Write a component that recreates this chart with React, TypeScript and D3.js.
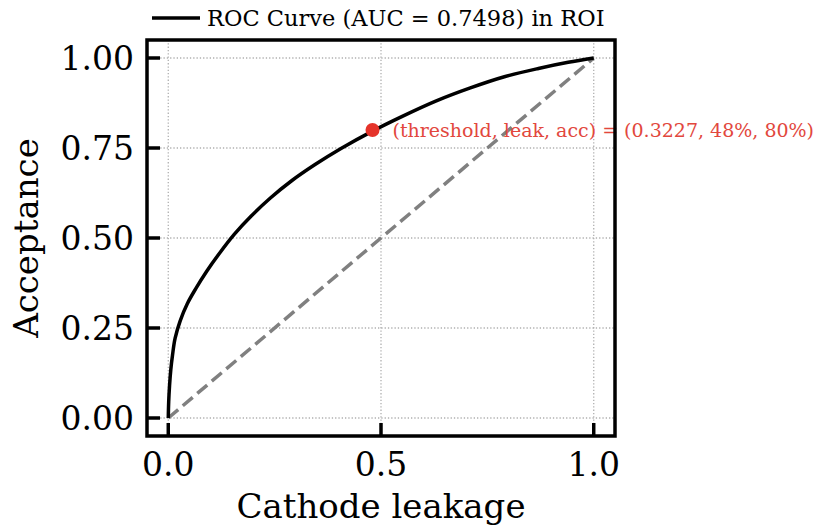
import React from "react";
import * as d3 from "d3";

// ROC curve points (leakage, acceptance)
const rocX = [0, 0.001, 0.003, 0.006, 0.010, 0.016, 0.028, 0.045, 0.065, 0.09, 0.12, 0.155, 0.195, 0.24, 0.29, 0.345, 0.405, 0.48, 0.55, 0.63, 0.71, 0.79, 0.87, 0.94, 1.0];
const rocY = [0, 0.045, 0.09, 0.135, 0.175, 0.221, 0.270, 0.318, 0.360, 0.407, 0.457, 0.510, 0.561, 0.611, 0.659, 0.704, 0.748, 0.797, 0.838, 0.881, 0.917, 0.948, 0.971, 0.988, 1.0];

const diagX = [0, 1];
const diagY = [0, 1];

const xTicks = [0, 0.5, 1.0];
const xTickLabels = ["0.0", "0.5", "1.0"];
const yTicks = [0, 0.25, 0.5, 0.75, 1.0];
const yTickLabels = ["0.00", "0.25", "0.50", "0.75", "1.00"];

const opPoint = { threshold: 0.3227, leak: 0.48, acc: 0.8 };
const legendLabel = "ROC Curve (AUC = 0.7498) in ROI";
const xLabel = "Cathode leakage";
const yLabel = "Acceptance";

const W = 817;
const H = 530;
const FONT = "'DejaVu Serif', serif";

export default function App() {
  const left = 147, right = 615, top = 40, bottom = 436;
  const x = d3.scaleLinear().domain([-0.05, 1.05]).range([left, right]);
  const y = d3.scaleLinear().domain([-0.05, 1.05]).range([bottom, top]);

  const rocLine = d3
    .line<[number, number]>()
    .x((d) => x(d[0]))
    .y((d) => y(d[1]))
    .curve(d3.curveCatmullRom.alpha(0.5));
  const diagLine = d3
    .line<[number, number]>()
    .x((d) => x(d[0]))
    .y((d) => y(d[1]));

  const rocPts: [number, number][] = rocX.map((v, i) => [v, rocY[i]]);
  const diagPts: [number, number][] = diagX.map((v, i) => [v, diagY[i]]);

  const annText = `(threshold, leak, acc) = (${opPoint.threshold.toFixed(4)}, ${Math.round(opPoint.leak * 100)}%, ${Math.round(opPoint.acc * 100)}%)`;

  return (
    <svg
      width={W}
      height={H}
      style={{ position: "absolute", left: 0, top: 0, background: "#fff" }}
      fontFamily={FONT}
    >
      {/* grid */}
      <g stroke="#b0b0b0" strokeWidth={1.3} strokeDasharray="1.3,2">
        {xTicks.map((t) => (
          <line key={"gx" + t} x1={x(t)} x2={x(t)} y1={top} y2={bottom} />
        ))}
        {yTicks.map((t) => (
          <line key={"gy" + t} x1={left} x2={right} y1={y(t)} y2={y(t)} />
        ))}
      </g>

      {/* diagonal */}
      <path
        d={diagLine(diagPts) || ""}
        fill="none"
        stroke="#808080"
        strokeWidth={3.5}
        strokeDasharray="13,6"
      />
      {/* ROC */}
      <path
        d={rocLine(rocPts) || ""}
        fill="none"
        stroke="#000"
        strokeWidth={3.5}
        strokeLinejoin="round"
      />

      {/* operating point */}
      <circle cx={x(opPoint.leak)} cy={y(opPoint.acc)} r={7} fill="#e5332a" />
      <text
        x={x(opPoint.leak) + 20}
        y={y(opPoint.acc)}
        dy="0.35em"
        fontSize={19}
        fill="#e2473d"
      >
        {annText}
      </text>

      {/* ticks */}
      <g stroke="#000" strokeWidth={3.5}>
        {xTicks.map((t) => (
          <line key={"tx" + t} x1={x(t)} x2={x(t)} y1={bottom} y2={bottom - 13} />
        ))}
        {yTicks.map((t) => (
          <line key={"ty" + t} x1={left} x2={left + 13} y1={y(t)} y2={y(t)} />
        ))}
      </g>

      {/* frame */}
      <rect
        x={left}
        y={top}
        width={right - left}
        height={bottom - top}
        fill="none"
        stroke="#000"
        strokeWidth={3.5}
      />

      {/* tick labels */}
      <g fontSize={33} fill="#000">
        {xTicks.map((t, i) => (
          <text key={"lx" + t} x={x(t)} y={476} textAnchor="middle">
            {xTickLabels[i]}
          </text>
        ))}
        {yTicks.map((t, i) => (
          <text key={"ly" + t} x={134} y={y(t)} dy="0.36em" textAnchor="end">
            {yTickLabels[i]}
          </text>
        ))}
      </g>

      {/* axis labels */}
      <text x={x(0.5)} y={518} textAnchor="middle" fontSize={34} fill="#000">
        {xLabel}
      </text>
      <text
        transform={`translate(38, ${(top + bottom) / 2}) rotate(-90)`}
        textAnchor="middle"
        fontSize={34}
        fill="#000"
      >
        {yLabel}
      </text>

      {/* legend */}
      <line x1={152} x2={200} y1={18} y2={18} stroke="#000" strokeWidth={3.5} />
      <text x={207} y={18} dy="0.35em" fontSize={22.5} fill="#000">
        {legendLabel}
      </text>
    </svg>
  );
}
